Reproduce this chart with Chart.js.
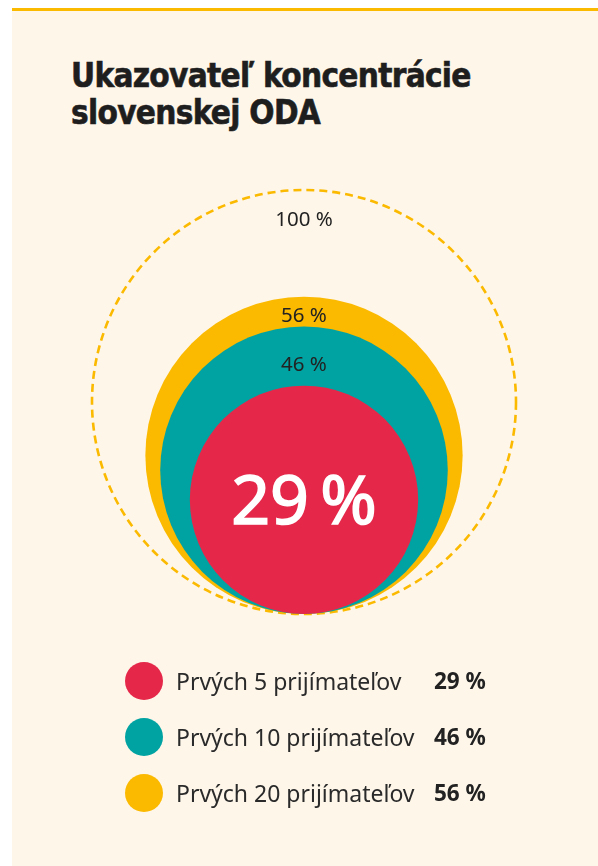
<!DOCTYPE html>
<html lang="sk">
<head>
<meta charset="utf-8">
<script src="https://cdn.jsdelivr.net/npm/chart.js@4.4.1/dist/chart.umd.min.js"></script>
<style>
  html, body { margin: 0; padding: 0; background: #ffffff; }
  body { width: 598px; height: 866px; position: relative; overflow: hidden; font-family: "Noto Sans", "Open Sans", sans-serif; color: #222; }
  #panel { position: absolute; left: 12px; top: 8px; width: 586px; height: 858px; background: #fef6e9; border-top: 3px solid #fbb900; box-sizing: border-box; }
  #title { position: absolute; left: 71px; top: 57px; margin: 0; font-family: "DejaVu Sans", sans-serif; font-stretch: condensed; font-weight: bold; font-size: 33px; line-height: 37px; color: #1e1e1e; letter-spacing: -0.7px; -webkit-text-stroke: 0.6px #1e1e1e; }
  #wrap { position: absolute; left: 0; top: 0; width: 598px; height: 866px; }
  #legend { position: absolute; left: 125px; top: 653px; }
  .row { position: relative; height: 56px; width: 400px; }
  .dot { position: absolute; left: 0; top: 9px; width: 38px; height: 38px; border-radius: 50%; }
  .lab { position: absolute; left: 51px; top: 0; line-height: 56px; font-size: 23px; color: #2a2a2a; }
  .val { position: absolute; left: 309px; top: 0; line-height: 56px; font-size: 22.5px; font-weight: bold; color: #222; }
</style>
</head>
<body>
<div id="panel"></div>
<h1 id="title">Ukazovateľ koncentrácie<br>slovenskej ODA</h1>
<div id="wrap"><canvas id="c"></canvas></div>
<div id="legend"></div>
<script>
// ---- data ----
const categories = ["Prvých 5 prijímateľov", "Prvých 10 prijímateľov", "Prvých 20 prijímateľov"];
const values = [29, 46, 56];            // share of total ODA, %
const totalValue = 100;                 // reference circle, %
const colors = ["#e5284a", "#00a3a2", "#fbb900"];
const referenceColor = "#fbb900";

const fmt = v => v + " %";

// area-proportional radius (in units of the 100 % circle radius)
const unitR = v => Math.sqrt(v / totalValue);

// circles drawn biggest first so smaller ones lie on top
const order = values.map((v, i) => i).sort((a, b) => values[b] - values[a]);

const pxPerUnit = 212;      // scale: 1 unit (radius of 100 % circle) in pixels
const originX = 304, originY = 614, W = 598, H = 866;

const radiusFromScale = ctx => {
  const s = ctx.chart.scales.x;
  const raw = ctx.raw;
  if (!raw) return 0;
  const r = s.getPixelForValue(unitR(raw.v)) - s.getPixelForValue(0);
  return isFinite(r) ? r : 0;
};

const datasets = [
  {
    label: "circles",
    data: order.map(i => ({ x: 0, y: unitR(values[i]), v: values[i] })),
    pointBackgroundColor: order.map(i => colors[i]),
    pointBorderWidth: 0,
    pointRadius: radiusFromScale,
    pointHoverRadius: radiusFromScale
  },
  {
    label: "total",
    data: [{ x: 0, y: unitR(totalValue), v: totalValue }],
    pointBackgroundColor: "rgba(0,0,0,0)",
    pointBorderColor: referenceColor,
    pointBorderWidth: 2.6,
    pointRadius: radiusFromScale,
    pointHoverRadius: radiusFromScale
  }
];

const dashPlugin = {
  id: "dash",
  beforeDatasetDraw(chart, args) {
    if (args.index === 1) chart.ctx.setLineDash([8, 5]);
  },
  afterDatasetDraw(chart) {
    chart.ctx.setLineDash([]);
  }
};

const labelPlugin = {
  id: "labels",
  afterDatasetsDraw(chart) {
    const ctx = chart.ctx, xs = chart.scales.x, ys = chart.scales.y;
    const geom = v => {
      const cx = xs.getPixelForValue(0);
      const cy = ys.getPixelForValue(unitR(v));
      const r = xs.getPixelForValue(unitR(v)) - cx;
      return { cx, cy, r, top: cy - r };
    };
    ctx.save();
    ctx.textAlign = "center";
    ctx.textBaseline = "middle";
    let g = geom(totalValue);
    ctx.fillStyle = "#222";
    ctx.font = '20.5px "Noto Sans"';
    ctx.fillText(fmt(totalValue), g.cx, g.top + 30);
    const offs = { 1: 39, 2: 19 };
    values.forEach((v, i) => {
      if (offs[i] == null) return;
      g = geom(v);
      ctx.fillText(fmt(v), g.cx, g.top + offs[i]);
    });
    const iMin = values.indexOf(Math.min(...values));
    g = geom(values[iMin]);
    ctx.fillStyle = "#ffffff";
    ctx.strokeStyle = "#ffffff";
    ctx.lineWidth = 1.6;
    ctx.font = '68px "Noto Sans"';
    const big = values[iMin] + "\u2009%";
    ctx.fillText(big, g.cx, g.cy + 5);
    ctx.strokeText(big, g.cx, g.cy + 5);
    ctx.restore();
  }
};

new Chart(document.getElementById("c"), {
  type: "scatter",
  data: { datasets },
  options: {
    responsive: true,
    maintainAspectRatio: false,
    animation: false,
    events: [],
    layout: { padding: 0 },
    plugins: { legend: { display: false }, tooltip: { enabled: false } },
    scales: {
      x: { type: "linear", display: false, min: -originX / pxPerUnit, max: (W - originX) / pxPerUnit },
      y: { type: "linear", display: false, min: -(H - originY) / pxPerUnit, max: originY / pxPerUnit }
    }
  },
  plugins: [dashPlugin, labelPlugin]
});

// HTML legend built from the same arrays
const leg = document.getElementById("legend");
categories.forEach((c, i) => {
  const row = document.createElement("div");
  row.className = "row";
  row.innerHTML = `<span class="dot" style="background:${colors[i]}"></span><span class="lab">${c}</span><span class="val">${fmt(values[i])}</span>`;
  leg.appendChild(row);
});
</script>
</body>
</html>
